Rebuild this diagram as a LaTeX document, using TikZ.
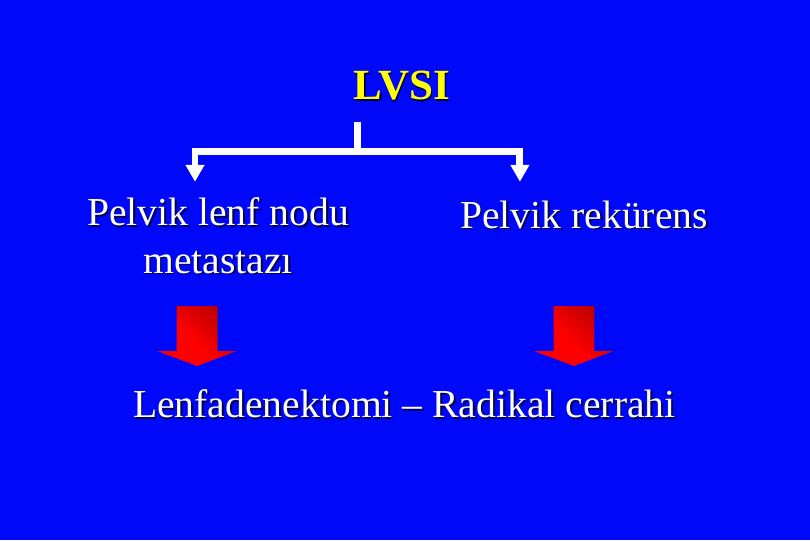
\documentclass[tikz,border=0pt]{standalone}
\usepackage{fontspec}
\setmainfont{Liberation Serif}
\usetikzlibrary{arrows.meta}

\definecolor{slideblue}{RGB}{0,8,250}
\definecolor{shadowblue}{RGB}{0,0,70}
\definecolor{titleyellow}{RGB}{255,255,0}

% sombreado de las flechas rojas (oscuro arriba a la derecha)
\pgfdeclareverticalshading{arrowshade}{100bp}{color(0bp)=(red); color(45bp)=(red); color(100bp)=(red!50!black)}

% text with a small dark shadow
\newcommand{\shtxt}[1]{\makebox[0pt][l]{\kern1.6pt\raisebox{-1.6pt}{\color{shadowblue}#1}}#1}

\tikzset{
  slidetext/.style={text=white, anchor=base, inner sep=0pt, font=\fontsize{37.6}{44.6}\selectfont},
  conn/.style={white, line width=0.233cm, line join=miter},
  conntip/.style={-{Triangle[width=0.6cm, length=0.567cm]}},
  redarrow/.style={shading=arrowshade, shading angle=-45},
}

\begin{document}
\begin{tikzpicture}
    % Fondo
    \fill[slideblue] (0,0) rectangle (27,18);
    \useasboundingbox (0,0) rectangle (27,18);

    % Titulo
    \node[slidetext, text=titleyellow, font=\fontsize{40.8}{48}\selectfont\bfseries] (lvsi) at (13.39,14.667) {\shtxt{LVSI}};

    % Ramas
    \node[slidetext, align=center] (lenf) at (7.27,8.9) {\shtxt{Pelvik lenf nodu}\\\shtxt{metastazı}};
    \node[slidetext] (rekur) at (19.47,10.4) {\shtxt{Pelvik rekürens}};

    % Conector
    \coordinate (stub) at (11.9,13.94);
    \coordinate (fork) at (11.9,12.95);
    \coordinate (tipL) at (6.5,11.94);
    \coordinate (tipR) at (17.33,11.94);
    \draw[conn] (stub) -- (fork);
    \draw[conn, conntip] (fork) -| (tipL);
    \draw[conn, conntip] (fork) -| (tipR);

    % Flechas rojas
    \foreach \x in {6.57,19.13}
        \shade[redarrow] ({\x-0.68},7.8) -- ({\x+0.68},7.8) -- ({\x+0.68},6.3) -- ({\x+1.33},6.3)
            -- (\x,5.8) -- ({\x-1.33},6.3) -- ({\x-0.68},6.3) -- cycle;

    % Resultado
    \node[slidetext] (tratam) at (13.48,4.067) {\shtxt{Lenfadenektomi – Radikal cerrahi}};
\end{tikzpicture}
\end{document}
